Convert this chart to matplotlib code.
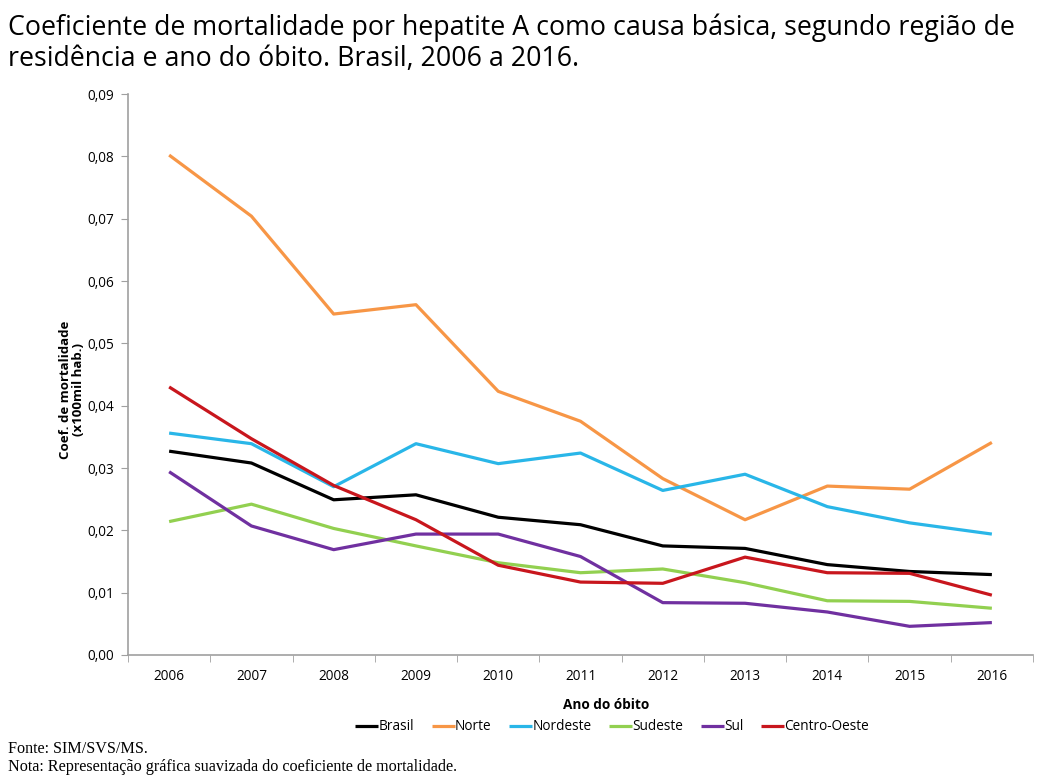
import matplotlib
matplotlib.use("Agg")
import matplotlib.pyplot as plt
from matplotlib.ticker import FixedLocator, FuncFormatter

years = [2006, 2007, 2008, 2009, 2010, 2011, 2012, 2013, 2014, 2015, 2016]
brasil = [0.0327, 0.0308, 0.0249, 0.0257, 0.0221, 0.0209, 0.0175, 0.0171, 0.0145, 0.0134, 0.0129]
norte = [0.0802, 0.0704, 0.0547, 0.0562, 0.0423, 0.0375, 0.0283, 0.0217, 0.0271, 0.0266, 0.0341]
nordeste = [0.0356, 0.0339, 0.0270, 0.0339, 0.0307, 0.0324, 0.0264, 0.0290, 0.0238, 0.0212, 0.0194]
sudeste = [0.0214, 0.0242, 0.0203, 0.0175, 0.0148, 0.0132, 0.0138, 0.0116, 0.0087, 0.0086, 0.0075]
sul = [0.0294, 0.0207, 0.0169, 0.0194, 0.0194, 0.0158, 0.0084, 0.0083, 0.0069, 0.0046, 0.0052]
centro_oeste = [0.0430, 0.0347, 0.0272, 0.0217, 0.0144, 0.0117, 0.0115, 0.0157, 0.0132, 0.0131, 0.0096]

series = [
    ("Brasil", brasil, "#000000"),
    ("Norte", norte, "#f79646"),
    ("Nordeste", nordeste, "#29b6e8"),
    ("Sudeste", sudeste, "#92d050"),
    ("Sul", sul, "#7030a0"),
    ("Centro-Oeste", centro_oeste, "#c8161d"),
]

title = "Coeficiente de mortalidade por hepatite A como causa básica, segundo região de\nresidência e ano do óbito. Brasil, 2006 a 2016."
ylabel = "Coef. de mortalidade\n(x100mil hab.)"
xlabel = "Ano do óbito"
fonte = "Fonte: SIM/SVS/MS."
nota = "Nota: Representação gráfica suavizada do coeficiente de mortalidade."

W, H = 1058, 780
fig = plt.figure(figsize=(W / 100, H / 100), dpi=100)
ax = fig.add_axes([128 / W, 1 - 655 / H, (1033 - 128) / W, (655 - 94) / H])

xpos = list(range(len(years)))
for name, vals, col in series:
    ax.plot(xpos, vals, color=col, lw=2.3, label=name, solid_joinstyle="round", solid_capstyle="butt")

ax.set_xlim(-0.5, len(years) - 0.5)
ax.set_ylim(0, 0.09)
ax.yaxis.set_major_locator(FixedLocator([i / 100 for i in range(10)]))
ax.yaxis.set_major_formatter(FuncFormatter(lambda v, p: f"{v:.2f}".replace(".", ",")))
ax.set_xticks(xpos)
ax.set_xticklabels([str(y) for y in years])
ax.set_xticks([i - 0.5 for i in range(len(years) + 1)], minor=True)
ax.tick_params(axis="x", which="major", length=0, pad=10, labelsize=9.8)
ax.tick_params(axis="x", which="minor", length=5, color="#a0a0a0", direction="out")
ax.tick_params(axis="y", length=5, color="#a0a0a0", pad=5, labelsize=9.8)
for lab in ax.get_xticklabels() + ax.get_yticklabels():
    lab.set_family("Open Sans")
for s in ["top", "right"]:
    ax.spines[s].set_visible(False)
for s in ["left", "bottom"]:
    ax.spines[s].set_color("#a0a0a0")
    ax.spines[s].set_linewidth(1.2)

fig.text(8 / W, 1 - 13 / H, title, ha="left", va="top", fontsize=19.3, family="Open Sans", linespacing=1.15)
fig.text(72 / W, 1 - 390 / H, ylabel, rotation=90, ha="center", va="center", fontsize=9.5,
         fontweight="bold", family="Open Sans", linespacing=1.0)
fig.text(606 / W, 1 - 705 / H, xlabel, ha="center", va="center", fontsize=9.8, fontweight="bold", family="Open Sans")

leg = fig.legend(loc="center", bbox_to_anchor=(612 / W, 1 - 727 / H), ncol=6, frameon=False,
                 prop={"family": "Open Sans", "size": 9.8}, handlelength=1.7, handletextpad=0.0,
                 columnspacing=1.3)

fig.text(8 / W, 1 - 749 / H, fonte, ha="left", va="center", fontsize=11.6, family="Liberation Serif")
fig.text(8 / W, 1 - 767 / H, nota, ha="left", va="center", fontsize=11.6, family="Liberation Serif")

fig.savefig("out.png", dpi=100)
